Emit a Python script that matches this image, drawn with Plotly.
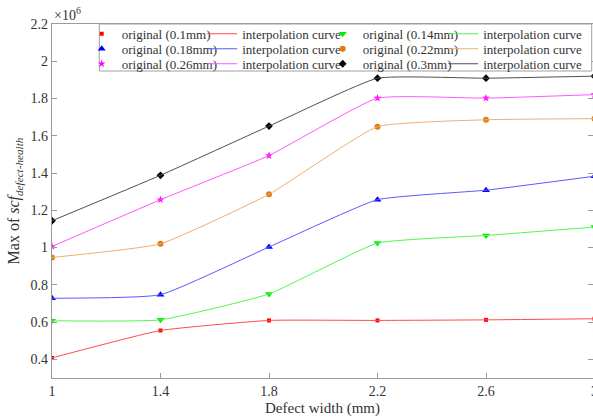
import plotly.graph_objects as go

# ---------------- data ----------------
defect_width = [1.0, 1.4, 1.8, 2.2, 2.6, 3.0]          # mm
depth_names = ["0.1mm", "0.14mm", "0.18mm", "0.22mm", "0.26mm", "0.3mm"]
scf_d010 = [408000, 555000, 609000, 609000, 612000, 618000]
scf_d014 = [607000, 612000, 751000, 1024000, 1065000, 1110000]
scf_d018 = [728000, 747000, 1003000, 1257000, 1308000, 1383000]
scf_d022 = [947000, 1020000, 1286000, 1649000, 1686000, 1692000]
scf_d026 = [1006000, 1257000, 1494000, 1802000, 1802000, 1821000]
scf_d030 = [1144000, 1388000, 1652000, 1909000, 1909000, 1920000]
SCALE = 1e6

x_tick_vals = [1, 1.4, 1.8, 2.2, 2.6]
x_tick_text = ["1", "1.4", "1.8", "2.2", "2.6"]
y_tick_vals = [0.4, 0.6, 0.8, 1.0, 1.2, 1.4, 1.6, 1.8, 2.0, 2.2]
y_tick_text = ["0.4", "0.6", "0.8", "1", "1.2", "1.4", "1.6", "1.8", "2", "2.2"]

series = [scf_d010, scf_d014, scf_d018, scf_d022, scf_d026, scf_d030]
marker_colors = ["#ff0000", "#00ee00", "#0000ff", "#e07a12", "#ff00ff", "#000000"]
line_colors = ["#ff4a4a", "#55f555", "#5a5aff", "#f0ae6e", "#ff55ff", "#505050"]
symbols = ["square", "triangle-down", "triangle-up", "circle", "star", "diamond"]
sizes = [4, 7, 7, 6, 6, 6]
legend_of = ["legend", "legend", "legend2", "legend2", "legend3", "legend3"]

FONT = "Liberation Serif, 'Times New Roman', 'DejaVu Serif', serif"
TXT = "#333333"
AX = "#9a9a9a"

fig = go.Figure()
for i, vals in enumerate(series):
    yv = [v / SCALE for v in vals]
    fig.add_trace(go.Scatter(
        x=defect_width, y=yv, mode="markers",
        name="original (%s)" % depth_names[i],
        marker=dict(symbol=symbols[i], size=sizes[i], color=marker_colors[i],
                    line=dict(width=0)),
        legend=legend_of[i],
    ))
    fig.add_trace(go.Scatter(
        x=defect_width, y=yv, mode="lines",
        name="interpolation curve",
        line=dict(color=line_colors[i], width=1, shape="spline", smoothing=0.4),
        legend=legend_of[i],
        legendwidth=110 if i % 2 == 1 else None,
    ))

L, R, T, B = 52, 0, 24, 41
W, H = 593, 419
pw = W - L - R
ph = H - T - B
px_per_unit_x = 271.25
x_end = 1 + pw / px_per_unit_x

def py(px_top):
    return 1 - (px_top - T) / ph

def pxx(px_left):
    return (px_left - L) / pw

leg_common = dict(orientation="h", xanchor="left", yanchor="top",
                  x=pxx(81.7), bgcolor="rgba(0,0,0,0)", borderwidth=0,
                  font=dict(family=FONT, size=13, color=TXT),
                  entrywidth=75.5, entrywidthmode="pixels", itemwidth=30,
                  traceorder="normal")

fig.update_layout(
    width=W, height=H,
    margin=dict(l=L, r=R, t=T, b=B, autoexpand=False),
    paper_bgcolor="white", plot_bgcolor="white",
    font=dict(family=FONT, size=14, color=TXT),
    showlegend=True,
    legend=dict(leg_common, y=py(18.8)),
    legend2=dict(leg_common, y=py(33.8)),
    legend3=dict(leg_common, y=py(48.8)),
    xaxis=dict(range=[1, x_end], tickvals=x_tick_vals, ticktext=x_tick_text,
               showgrid=False, zeroline=False, showline=True, linecolor=AX,
               linewidth=1.3, mirror="ticks", ticks="inside", ticklen=5,
               tickcolor=AX, tickfont=dict(family=FONT, size=14, color=TXT),
               title=dict(text="Defect width (mm)",
                          font=dict(family=FONT, size=15, color=TXT),
                          standoff=4)),
    yaxis=dict(range=[0.3, 2.2], tickvals=y_tick_vals, ticktext=y_tick_text,
               showgrid=False, zeroline=False, showline=True, linecolor=AX,
               linewidth=1.3, mirror="ticks", ticks="inside", ticklen=5,
               tickcolor=AX, tickfont=dict(family=FONT, size=14, color=TXT),
               title=dict(text="Max of <i>scf</i><sub><i>defect-health</i></sub>",
                          font=dict(family=FONT, size=16, color=TXT), standoff=6)),
    shapes=[dict(type="rect", xref="paper", yref="paper",
                 x0=pxx(99.3), x1=pxx(591.7), y0=py(71), y1=1,
                 line=dict(color="#a0a0a0", width=1), fillcolor="white",
                 layer="above")],
    annotations=[
        dict(text="×10<sup>6</sup>", xref="paper", yref="paper", x=0, y=1,
             xanchor="left", yanchor="bottom", showarrow=False,
             font=dict(family=FONT, size=14, color=TXT), yshift=-1),
        dict(text="3", xref="paper", yref="paper", x=(3 - 1) / (x_end - 1), y=0,
             xanchor="center", yanchor="top", showarrow=False, yshift=-4,
             font=dict(family=FONT, size=14, color=TXT)),
    ],
)

fig.write_html("out.html")
